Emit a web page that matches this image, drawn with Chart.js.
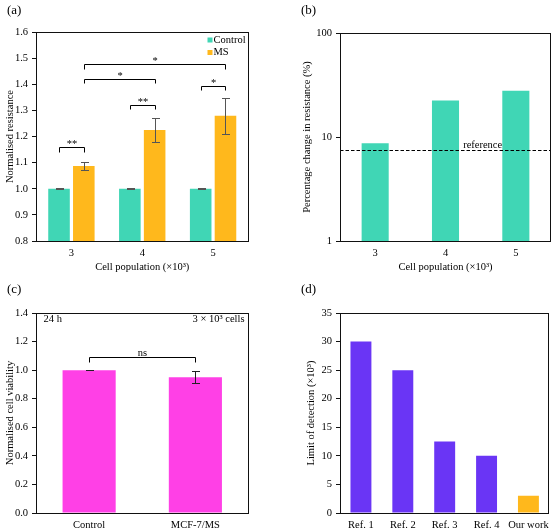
<!DOCTYPE html>
<html><head><meta charset="utf-8">
<script src="https://cdn.jsdelivr.net/npm/chart.js@4.4.0/dist/chart.umd.min.js"></script>
<style>
html,body{margin:0;padding:0;background:#fff;}
body{width:555px;height:532px;position:relative;overflow:hidden;font-family:'Liberation Serif','Times New Roman',serif;}
canvas{position:absolute;display:block;}
.lbl{position:absolute;font-size:13px;line-height:15px;color:#000;white-space:nowrap;}
</style></head><body>
<canvas id="ca" width="277" height="280" style="left:0;top:0"></canvas>
<canvas id="cb" width="278" height="280" style="left:277px;top:0"></canvas>
<canvas id="cc" width="277" height="252" style="left:0;top:280px"></canvas>
<canvas id="cd" width="278" height="252" style="left:277px;top:280px"></canvas>
<div class="lbl" style="left:7px;top:2px">(a)</div>
<div class="lbl" style="left:301px;top:2px">(b)</div>
<div class="lbl" style="left:7px;top:281px">(c)</div>
<div class="lbl" style="left:301px;top:281px">(d)</div>
<script>
// ---------------- data ----------------
const cellPop = ['3', '4', '5'];
const controlRes = [1.000, 1.000, 1.000];
const controlResErr = [0.002, 0.002, 0.002];
const msRes = [1.087, 1.225, 1.279];
const msResErr = [0.017, 0.045, 0.070];
const seriesNamesA = ['Control', 'MS'];

const pctChange = [8.7, 22.4, 27.9];
const pctReference = 7.55;
const logTicksB = [1, 10, 100];

const viabilityCats = ['Control', 'MCF-7/MS'];
const viability = [1.00, 0.95];
const viabilityErr = [0.002, 0.041];

const lodCats = ['Ref. 1', 'Ref. 2', 'Ref. 3', 'Ref. 4', 'Our work'];
const lod = [30, 25, 12.5, 10, 3];

// significance brackets: [datasetIndex, barIndex] pairs, level in data units
const sigFromA = [[0,0],[0,1],[0,2],[1,0],[1,0]];
const sigToA   = [[1,0],[1,1],[1,2],[1,1],[1,2]];
const sigLevelA = [1.158, 1.320, 1.393, 1.420, 1.476];
const sigMarkA = ['**', '**', '*', '*', '*'];
const sigLegA = 0.016;

const sigFromC = [[0,0]];
const sigToC = [[0,1]];
const sigLevelC = [1.094];
const sigMarkC = ['ns'];
const sigLegC = 0.035;

// ---------------- styles ----------------
const FONT = "'Liberation Serif','Times New Roman',serif";
const FS = 10.5;
const TEAL = '#40d6b5';
const ORANGE = '#ffb81c';
const MAGENTA = '#ff40e6';
const PURPLE = '#6a35f5';

Chart.defaults.font.family = FONT;
Chart.defaults.font.size = FS;
Chart.defaults.color = '#000';
Chart.defaults.animation = false;
Chart.defaults.responsive = false;
Chart.defaults.plugins.legend.display = false;
Chart.defaults.plugins.tooltip.enabled = false;

const framePlugin = {
  id: 'frame',
  afterDraw(chart) {
    const {ctx, chartArea: a} = chart;
    ctx.save();
    ctx.strokeStyle = '#111';
    ctx.lineWidth = 1;
    const l = Math.round(a.left) + 0.5, t = Math.round(a.top) + 0.5;
    const r = Math.round(a.right) - 0.5, b = Math.round(a.bottom) + 0.5;
    ctx.strokeRect(l, t, r - l, b - t);
    ctx.restore();
  }
};

function makeErrorBars(errs, cap, color) {
  return {
    id: 'errbars',
    afterDatasetsDraw(chart) {
      const ctx = chart.ctx, y = chart.scales.y;
      ctx.save();
      ctx.strokeStyle = color;
      ctx.lineWidth = 1;
      errs.forEach((arr, di) => {
        if (!arr) return;
        const meta = chart.getDatasetMeta(di);
        meta.data.forEach((bar, i) => {
          const v = chart.data.datasets[di].data[i], e = arr[i];
          const yt = Math.round(y.getPixelForValue(v + e)) + 0.5;
          const yb = Math.round(y.getPixelForValue(v - e)) + 0.5;
          const x = Math.round(bar.x) + 0.5;
          ctx.beginPath();
          ctx.moveTo(x, yt); ctx.lineTo(x, yb);
          ctx.moveTo(x - cap, yt); ctx.lineTo(x + cap + 1, yt);
          ctx.moveTo(x - cap, yb); ctx.lineTo(x + cap + 1, yb);
          ctx.stroke();
        });
      });
      ctx.restore();
    }
  };
}

function makeBrackets(from, to, levels, marks, leg) {
  return {
    id: 'brackets',
    afterDatasetsDraw(chart) {
      const ctx = chart.ctx, y = chart.scales.y;
      ctx.save();
      ctx.strokeStyle = '#000';
      ctx.fillStyle = '#000';
      ctx.lineWidth = 1;
      ctx.font = FS + 'px ' + FONT;
      ctx.textAlign = 'center';
      ctx.textBaseline = 'alphabetic';
      from.forEach((f, k) => {
        const t = to[k];
        const x1 = Math.round(chart.getDatasetMeta(f[0]).data[f[1]].x) + 0.5;
        const x2 = Math.round(chart.getDatasetMeta(t[0]).data[t[1]].x) + 0.5;
        const yl = Math.round(y.getPixelForValue(levels[k])) + 0.5;
        const yd = Math.round(y.getPixelForValue(levels[k] - leg)) + 0.5;
        ctx.beginPath();
        ctx.moveTo(x1, yd); ctx.lineTo(x1, yl); ctx.lineTo(x2, yl); ctx.lineTo(x2, yd);
        ctx.stroke();
        ctx.fillText(marks[k], (x1 + x2) / 2, yl - (marks[k] === 'ns' ? 2 : 0.5));
      });
      ctx.restore();
    }
  };
}

function yAxisBase(width, titleText, titlePad) {
  return {
    afterFit(s) { s.width = width; },
    border: {display: false},
    grid: {drawOnChartArea: false, drawTicks: true, tickLength: 4, color: '#111'},
    ticks: {padding: 4, color: '#000', font: {size: FS}},
    title: {display: true, text: titleText, padding: {top: titlePad, bottom: 0}, font: {size: FS}, color: '#000'}
  };
}
function xAxisBase(height, titleText) {
  const ax = {
    afterFit(s) { s.height = height; },
    border: {display: false},
    grid: {display: false, drawTicks: false},
    ticks: {padding: 6, color: '#000', maxRotation: 0, autoSkip: false, font: {size: FS}},
  };
  if (titleText) ax.title = {display: true, text: titleText, padding: {top: 0, bottom: 2}, font: {size: FS}, color: '#000'};
  return ax;
}

// ---------------- (a) ----------------
const legendA = {
  id: 'legendA',
  afterDraw(chart) {
    const {ctx, chartArea: a} = chart;
    const colors = chart.data.datasets.map(d => d.backgroundColor);
    ctx.save();
    ctx.font = FS + 'px ' + FONT;
    ctx.textBaseline = 'middle';
    ctx.textAlign = 'left';
    chart.data.datasets.forEach((d, i) => {
      const yc = a.top + 8 + i * 12.5;
      ctx.fillStyle = colors[i];
      ctx.fillRect(a.right - 41, yc - 2.5, 5, 5);
      ctx.fillStyle = '#000';
      ctx.fillText(d.label, a.right - 35, yc);
    });
    ctx.restore();
  }
};

new Chart(document.getElementById('ca'), {
  type: 'bar',
  data: {
    labels: cellPop,
    datasets: [
      {label: seriesNamesA[0], data: controlRes, backgroundColor: TEAL, categoryPercentage: 0.7, barPercentage: 0.87},
      {label: seriesNamesA[1], data: msRes, backgroundColor: ORANGE, categoryPercentage: 0.7, barPercentage: 0.87}
    ]
  },
  options: {
    layout: {padding: {left: 0, top: 32, right: 28.5, bottom: 4}},
    scales: {
      x: xAxisBase(35, 'Cell population (×10³)'),
      y: Object.assign(yAxisBase(36, 'Normalised resistance', 4), {
        min: 0.8, max: 1.6, beginAtZero: false,
        ticks: {padding: 4, color: '#000', stepSize: 0.1, font: {size: FS}, callback: v => Number(v).toFixed(1)}
      })
    }
  },
  plugins: [framePlugin, makeErrorBars([controlResErr, msResErr], 3.5, '#555'),
            makeBrackets(sigFromA, sigToA, sigLevelA, sigMarkA, sigLegA), legendA]
});

// ---------------- (b) ----------------
const refLineB = {
  id: 'refLine',
  afterDatasetsDraw(chart) {
    const {ctx, chartArea: a} = chart;
    const y = Math.round(chart.scales.y.getPixelForValue(pctReference)) + 0.5;
    ctx.save();
    ctx.strokeStyle = '#000';
    ctx.lineWidth = 1.2;
    ctx.setLineDash([3.5, 2]);
    ctx.beginPath(); ctx.moveTo(a.left, y); ctx.lineTo(a.right, y); ctx.stroke();
    ctx.setLineDash([]);
    ctx.fillStyle = '#000';
    ctx.font = FS + 'px ' + FONT;
    ctx.textAlign = 'center';
    ctx.textBaseline = 'alphabetic';
    const xs = chart.scales.x;
    const xm = (xs.getPixelForValue(1) + xs.getPixelForValue(2)) / 2;
    ctx.fillText('reference', xm + 2, y - 2.5);
    ctx.restore();
  }
};

new Chart(document.getElementById('cb'), {
  type: 'bar',
  data: {
    labels: cellPop,
    datasets: [{data: pctChange, backgroundColor: TEAL, categoryPercentage: 1, barPercentage: 0.385}]
  },
  options: {
    layout: {padding: {left: 0, top: 33, right: 4, bottom: 4}},
    scales: {
      x: xAxisBase(35, 'Cell population (×10³)'),
      y: Object.assign(yAxisBase(63, 'Percentage change in resistance (%)', 23.7), {
        type: 'logarithmic', min: 1, max: 100,
        afterBuildTicks(s) { s.ticks = logTicksB.map(v => ({value: v})); },
        ticks: {padding: 4, color: '#000', font: {size: FS}, callback: v => String(v)}
      })
    }
  },
  plugins: [framePlugin, refLineB]
});

// ---------------- (c) ----------------
const textsC = {
  id: 'textsC',
  afterDraw(chart) {
    const {ctx, chartArea: a} = chart;
    ctx.save();
    ctx.fillStyle = '#000';
    ctx.font = FS + 'px ' + FONT;
    ctx.textBaseline = 'middle';
    ctx.textAlign = 'left';
    ctx.fillText('24 h', a.left + 7.5, a.top + 6.5);
    ctx.textAlign = 'right';
    ctx.fillText('3 × 10³ cells', a.right - 4, a.top + 6.5);
    ctx.restore();
  }
};

new Chart(document.getElementById('cc'), {
  type: 'bar',
  data: {
    labels: viabilityCats,
    datasets: [{data: viability, backgroundColor: MAGENTA, categoryPercentage: 1, barPercentage: 0.5}]
  },
  options: {
    layout: {padding: {left: 0, top: 33, right: 28.5, bottom: 0}},
    scales: {
      x: xAxisBase(19, null),
      y: Object.assign(yAxisBase(36, 'Normalised cell viability', 4), {
        min: 0, max: 1.4,
        ticks: {padding: 4, color: '#000', stepSize: 0.2, font: {size: FS}, callback: v => Number(v).toFixed(1)}
      })
    }
  },
  plugins: [framePlugin, makeErrorBars([viabilityErr], 3.5, '#222'),
            makeBrackets(sigFromC, sigToC, sigLevelC, sigMarkC, sigLegC), textsC]
});

// ---------------- (d) ----------------
new Chart(document.getElementById('cd'), {
  type: 'bar',
  data: {
    labels: lodCats,
    datasets: [{data: lod, backgroundColor: [PURPLE, PURPLE, PURPLE, PURPLE, ORANGE], categoryPercentage: 1, barPercentage: 0.5}]
  },
  options: {
    layout: {padding: {left: 0, top: 33, right: 3, bottom: 0}},
    scales: {
      x: xAxisBase(19, null),
      y: Object.assign(yAxisBase(63, 'Limit of detection (×10³)', 28.4), {
        min: 0, max: 35,
        ticks: {padding: 4, color: '#000', stepSize: 5, font: {size: FS}}
      })
    }
  },
  plugins: [framePlugin]
});
</script>
</body></html>
